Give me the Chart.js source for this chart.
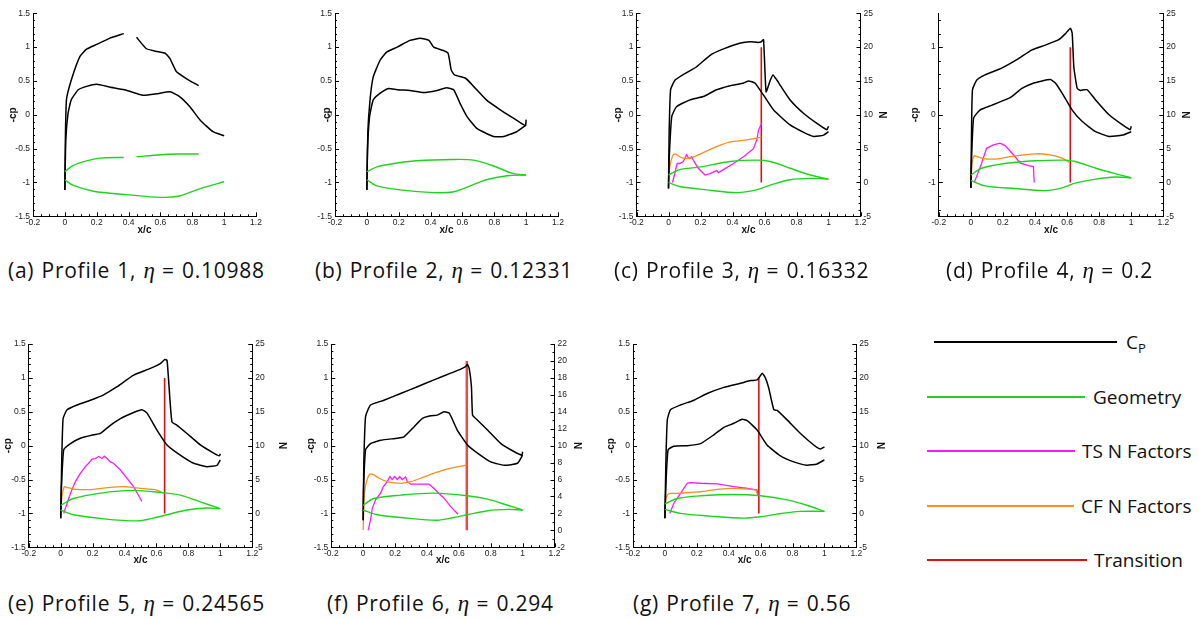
<!DOCTYPE html>
<html><head><meta charset="utf-8">
<script src="https://cdn.jsdelivr.net/npm/chart.js@4/dist/chart.umd.min.js"></script>
<style>
html,body{margin:0;padding:0;background:#fff;}
body{width:1199px;height:619px;overflow:hidden;position:relative;font-family:"Open Sans",sans-serif;}
canvas{position:absolute;}
.cap{position:absolute;white-space:nowrap;font-size:21px;color:#111;line-height:24px;letter-spacing:0.75px;word-spacing:1px;}
.cap i{font-family:"Liberation Serif",serif;font-style:italic;font-size:23px;letter-spacing:0;}
.lg{position:absolute;height:1.5px;}
.lt{position:absolute;white-space:nowrap;font-size:19px;color:#111;line-height:24px;}
.lt sub{font-size:13px;vertical-align:-4px;}
</style></head><body>
<script>
// ---------- tick labels ----------
const xTicks = [-0.2, 0, 0.2, 0.4, 0.6, 0.8, 1, 1.2];
const cpTicks = [-1.5, -1, -0.5, 0, 0.5, 1, 1.5];
const cpTicksD = [-1, 0, 1];
const nTicks = [-5, 0, 5, 10, 15, 20, 25];
const nTicksF = [-2, 0, 2, 4, 6, 8, 10, 12, 14, 16, 18, 20, 22];

// ---------- Profile 1 ----------
const cpUp1 = [[0,-1.11],[0.003,-0.4],[0.01,0.22],[0.04,0.51],[0.094,0.86],[0.136,0.97],[0.2,1.04],[0.28,1.13],[0.37,1.2],[0.41,null],[0.45,1.145],[0.51,0.98],[0.57,0.94],[0.63,0.91],[0.66,0.83],[0.70,0.64],[0.76,0.54],[0.84,0.43]];
const cpLo1 = [[0,-1.11],[0.006,-0.37],[0.02,0.02],[0.04,0.22],[0.084,0.37],[0.136,0.42],[0.2,0.45],[0.28,0.41],[0.39,0.36],[0.49,0.29],[0.575,0.31],[0.66,0.34],[0.72,0.27],[0.785,0.12],[0.85,-0.08],[0.93,-0.25],[1.0,-0.31]];
const geoUp1 = [[0,-0.84],[0.05,-0.75],[0.136,-0.68],[0.22,-0.64],[0.37,-0.63],[0.41,null],[0.45,-0.62],[0.6,-0.59],[0.72,-0.58],[0.84,-0.58]];
const geoLo1 = [[0,-0.96],[0.05,-1.04],[0.18,-1.13],[0.39,-1.18],[0.6,-1.22],[0.72,-1.2],[0.85,-1.09],[1.0,-0.99]];

// ---------- Profile 2 ----------
const cpUp2 = [[0,-1.11],[0.006,-0.27],[0.02,0.22],[0.04,0.56],[0.084,0.81],[0.126,0.93],[0.19,1.0],[0.27,1.1],[0.335,1.13],[0.39,1.1],[0.42,1.0],[0.48,0.95],[0.51,0.91],[0.53,0.66],[0.55,0.59],[0.62,0.54],[0.67,0.42],[0.75,0.22],[0.84,0.07],[0.92,-0.05],[0.995,-0.16],[1.0,-0.07]];
const cpLo2 = [[0,-1.11],[0.004,-0.52],[0.017,-0.03],[0.04,0.22],[0.084,0.32],[0.136,0.39],[0.19,0.37],[0.27,0.36],[0.356,0.33],[0.44,0.36],[0.5,0.4],[0.545,0.37],[0.585,0.17],[0.63,-0.03],[0.69,-0.2],[0.795,-0.32],[0.86,-0.32],[0.94,-0.25],[1.0,-0.15]];
const geoUp2 = [[0,-0.84],[0.063,-0.77],[0.17,-0.72],[0.31,-0.68],[0.54,-0.66],[0.67,-0.67],[0.8,-0.76],[0.92,-0.87],[1.0,-0.89]];
const geoLo2 = [[0,-0.96],[0.063,-1.05],[0.21,-1.11],[0.42,-1.15],[0.54,-1.14],[0.63,-1.07],[0.75,-0.96],[0.88,-0.9],[1.0,-0.89]];

// ---------- Profile 3 ----------
const cpUp3 = [[0,-1.09],[0.004,-0.27],[0.013,0.37],[0.04,0.51],[0.09,0.59],[0.176,0.71],[0.26,0.88],[0.34,0.97],[0.45,1.06],[0.51,1.08],[0.56,1.07],[0.58,1.08],[0.594,1.11],[0.61,0.34],[0.636,0.51],[0.653,0.59],[0.678,0.51],[0.7,0.43],[0.76,0.22],[0.845,0.02],[0.93,-0.13],[0.99,-0.22],[1.0,-0.17]];
const cpLo3 = [[0,-1.09],[0.004,-0.67],[0.02,-0.03],[0.05,0.12],[0.134,0.22],[0.218,0.27],[0.3,0.37],[0.385,0.43],[0.47,0.47],[0.5,0.5],[0.54,0.47],[0.594,0.29],[0.657,0.07],[0.76,-0.15],[0.845,-0.26],[0.908,-0.32],[0.97,-0.3],[1.0,-0.25]];
const geoUp3 = [[0,-0.89],[0.07,-0.81],[0.2,-0.77],[0.385,-0.69],[0.55,-0.67],[0.636,-0.69],[0.76,-0.79],[0.887,-0.89],[1.0,-0.95]];
const geoLo3 = [[0,-1.0],[0.07,-1.06],[0.24,-1.11],[0.427,-1.15],[0.55,-1.11],[0.636,-1.04],[0.76,-0.96],[0.887,-0.94],[1.0,-0.95]];
const cf3 = [[0,0.1],[0.008,2.3],[0.029,4.1],[0.046,4.2],[0.071,3.8],[0.092,3.6],[0.134,3.6],[0.197,4.2],[0.301,5.3],[0.385,6.0],[0.49,6.3],[0.582,6.7]];
const ts3 = [[0.025,0],[0.04,1.4],[0.054,2.8],[0.071,2.8],[0.092,3.1],[0.113,4.1],[0.125,3.6],[0.134,3.6],[0.144,3.8],[0.155,3.3],[0.186,2.1],[0.228,1.1],[0.259,1.3],[0.301,1.75],[0.312,1.45],[0.343,1.9],[0.406,2.8],[0.469,3.8],[0.531,5.0],[0.552,6.3],[0.563,7.75],[0.582,8.7]];
const tr3 = [[0.58,0],[0.58,20]];

// ---------- Profile 4 ----------
const cpUp4 = [[0,-1.08],[0.004,-0.27],[0.01,0.37],[0.036,0.51],[0.088,0.59],[0.192,0.69],[0.297,0.83],[0.381,0.96],[0.464,1.03],[0.548,1.11],[0.59,1.2],[0.621,1.28],[0.632,1.2],[0.642,0.71],[0.663,0.39],[0.684,0.36],[0.705,0.37],[0.726,0.37],[0.778,0.22],[0.862,0.0],[0.946,-0.15],[0.994,-0.22],[1.0,-0.17]];
const cpLo4 = [[0,-1.08],[0.004,-0.67],[0.017,-0.05],[0.056,0.07],[0.13,0.14],[0.213,0.22],[0.255,0.27],[0.318,0.39],[0.381,0.46],[0.444,0.5],[0.496,0.52],[0.527,0.47],[0.569,0.32],[0.632,0.07],[0.695,-0.1],[0.778,-0.25],[0.862,-0.32],[0.946,-0.3],[1.0,-0.25]];
const geoUp4 = [[0,-0.89],[0.067,-0.79],[0.213,-0.72],[0.4,-0.68],[0.59,-0.67],[0.65,-0.69],[0.78,-0.79],[0.9,-0.87],[1.0,-0.93]];
const geoLo4 = [[0,-0.97],[0.088,-1.05],[0.276,-1.09],[0.46,-1.12],[0.57,-1.08],[0.65,-1.01],[0.78,-0.95],[0.9,-0.92],[1.0,-0.93]];
const cf4 = [[0,0.2],[0.008,2.9],[0.021,3.95],[0.036,3.85],[0.088,3.5],[0.172,3.5],[0.255,3.85],[0.402,4.24],[0.485,4.1],[0.569,3.6],[0.615,2.95]];
const ts4 = [[0.021,0],[0.036,0.9],[0.067,2.85],[0.098,5.05],[0.14,5.55],[0.182,5.8],[0.213,5.45],[0.266,4.1],[0.308,2.85],[0.36,2.5],[0.39,2.35],[0.395,0]];
const tr4 = [[0.62,0],[0.62,20]];

// ---------- Profile 5 ----------
const cpUp5 = [[0,-1.07],[0.006,-0.26],[0.015,0.4],[0.04,0.53],[0.102,0.6],[0.186,0.67],[0.269,0.75],[0.353,0.87],[0.457,1.04],[0.562,1.14],[0.624,1.21],[0.651,1.27],[0.666,1.26],[0.676,0.97],[0.697,0.35],[0.729,0.3],[0.791,0.18],[0.875,0.01],[0.958,-0.11],[0.995,-0.15],[1.0,-0.12]];
const cpLo5 = [[0,-1.07],[0.004,-0.65],[0.019,-0.06],[0.061,0.03],[0.123,0.11],[0.207,0.16],[0.248,0.18],[0.311,0.3],[0.374,0.4],[0.457,0.49],[0.509,0.53],[0.541,0.48],[0.603,0.23],[0.666,0.01],[0.749,-0.14],[0.833,-0.26],[0.916,-0.31],[0.979,-0.29],[1.0,-0.21]];
const geoUp5 = [[0,-0.88],[0.08,-0.78],[0.25,-0.7],[0.457,-0.66],[0.624,-0.69],[0.75,-0.73],[0.875,-0.83],[1.0,-0.93]];
const geoLo5 = [[0,-0.95],[0.08,-1.02],[0.27,-1.08],[0.48,-1.11],[0.58,-1.07],[0.666,-1.02],[0.79,-0.95],[0.916,-0.92],[1.0,-0.93]];
const cf5 = [[0,0.26],[0.008,2.5],[0.023,3.95],[0.04,3.85],[0.102,3.55],[0.207,3.55],[0.311,3.85],[0.395,3.95],[0.499,3.7],[0.603,3.45],[0.645,2.95]];
const ts5 = [[0.019,0],[0.04,1.5],[0.061,2.95],[0.092,4.7],[0.123,5.9],[0.154,6.9],[0.175,7.4],[0.196,8.0],[0.217,8.1],[0.238,8.4],[0.259,8.1],[0.273,8.45],[0.29,8.1],[0.311,7.6],[0.33,7.4],[0.374,6.4],[0.457,3.95],[0.509,1.75]];
const tr5 = [[0.651,0],[0.651,20]];

// ---------- Profile 6 ----------
const cpUp6 = [[0,-1.1],[0.004,-0.26],[0.015,0.43],[0.046,0.6],[0.13,0.67],[0.235,0.77],[0.34,0.87],[0.444,0.97],[0.549,1.07],[0.612,1.13],[0.644,1.17],[0.654,1.2],[0.665,1.14],[0.679,0.87],[0.686,0.45],[0.706,0.4],[0.78,0.23],[0.864,0.03],[0.948,-0.09],[0.996,-0.14],[1.0,-0.09]];
const cpLo6 = [[0,-1.1],[0.002,-0.65],[0.015,-0.06],[0.046,0.03],[0.11,0.08],[0.214,0.11],[0.256,0.13],[0.32,0.28],[0.37,0.4],[0.423,0.44],[0.465,0.45],[0.507,0.5],[0.54,0.48],[0.59,0.23],[0.654,0.01],[0.717,-0.11],[0.8,-0.24],[0.885,-0.29],[0.968,-0.26],[1.0,-0.14]];
const geoUp6 = [[0,-0.88],[0.067,-0.78],[0.235,-0.73],[0.444,-0.7],[0.654,-0.74],[0.78,-0.79],[0.906,-0.88],[1.0,-0.95]];
const geoLo6 = [[0,-0.95],[0.088,-1.02],[0.277,-1.07],[0.465,-1.1],[0.57,-1.06],[0.654,-1.02],[0.78,-0.96],[0.906,-0.94],[1.0,-0.95]];
const cf6 = [[0,0.04],[0.002,1.6],[0.008,4.4],[0.021,5.75],[0.042,6.65],[0.067,6.55],[0.099,6.15],[0.151,5.75],[0.235,5.55],[0.298,5.75],[0.361,6.15],[0.444,6.75],[0.549,7.35],[0.648,7.7]];
const ts6 = [[0.031,0],[0.046,1.2],[0.057,2.6],[0.078,3.6],[0.109,4.4],[0.126,5.15],[0.151,5.75],[0.168,6.35],[0.182,6.0],[0.197,6.35],[0.214,6.0],[0.229,6.35],[0.245,6.0],[0.266,6.3],[0.277,5.75],[0.298,5.45],[0.361,5.45],[0.413,5.45],[0.444,4.95],[0.507,3.8],[0.549,2.8],[0.595,1.9]];
const tr6 = [[0.65,0],[0.65,20]];

// ---------- Profile 7 ----------
const cpUp7 = [[0,-1.07],[0.006,-0.26],[0.015,0.38],[0.035,0.53],[0.098,0.6],[0.182,0.67],[0.265,0.77],[0.37,0.86],[0.474,0.92],[0.537,0.96],[0.578,0.97],[0.595,1.02],[0.61,1.07],[0.63,1.0],[0.651,0.85],[0.683,0.53],[0.704,0.52],[0.766,0.38],[0.85,0.18],[0.933,0.01],[0.975,-0.05],[1.0,-0.02]];
const cpLo7 = [[0,-1.07],[0.006,-0.6],[0.02,-0.06],[0.056,-0.01],[0.14,0.0],[0.223,0.03],[0.307,0.16],[0.37,0.27],[0.432,0.33],[0.484,0.39],[0.516,0.37],[0.578,0.23],[0.64,0.01],[0.724,-0.15],[0.808,-0.24],[0.89,-0.29],[0.954,-0.27],[1.0,-0.21]];
const geoUp7 = [[0,-0.86],[0.077,-0.78],[0.223,-0.74],[0.432,-0.72],[0.6,-0.74],[0.766,-0.8],[0.89,-0.88],[1.0,-0.97]];
const geoLo7 = [[0,-0.94],[0.098,-1.0],[0.286,-1.04],[0.495,-1.07],[0.6,-1.05],[0.703,-1.01],[0.85,-0.97],[1.0,-0.97]];
const cf7 = [[0,0.26],[0.006,2.0],[0.015,2.7],[0.035,2.95],[0.077,2.95],[0.161,3.1],[0.223,3.2],[0.328,3.55],[0.432,3.7],[0.516,3.6],[0.568,3.45],[0.578,2.95]];
const ts7 = [[0.031,0],[0.056,1.5],[0.098,2.95],[0.14,4.45],[0.157,4.55],[0.223,4.45],[0.328,4.35],[0.432,3.95],[0.516,3.7],[0.557,3.55],[0.578,3.45],[0.584,2.6]];
const tr7 = [[0.589,0],[0.589,20]];

// ---------- captions / legend text ----------
const captionLabels = ['(a) Profile 1,', '(b) Profile 2,', '(c) Profile 3,', '(d) Profile 4,', '(e) Profile 5,', '(f) Profile 6,', '(g) Profile 7,'];
const etaValues = ['0.10988', '0.12331', '0.16332', '0.2', '0.24565', '0.294', '0.56'];
const legendNames = ['Geometry', 'TS N Factors', 'CF N Factors', 'Transition'];

// ---------- styles ----------
const C_CP = '#000000', C_GEO = '#1fd21f', C_TS = '#ff19ff', C_CF = '#ff8c1f', C_TR = '#e01010';

const panels = [
  {cv:[0,0,300,240],   L:33,   R:256,   T:13.3, B:216.3, yT:7,  xT:4, cp:[cpUp1,cpLo1], geo:[geoUp1,geoLo1]},
  {cv:[300,0,300,240], L:35,   R:258,   T:13.3, B:216.3, yT:21, xT:4, cp:[cpUp2,cpLo2], geo:[geoUp2,geoLo2]},
  {cv:[590,0,310,240], L:46.5, R:270.5, T:13.3, B:216.3, yT:22, xT:4, nT:12, cp:[cpUp3,cpLo3], geo:[geoUp3,geoLo3], cf:cf3, ts:ts3, tr:tr3, n:[-5,25], nTicks:nTicks},
  {cv:[895,0,304,240], L:43.8, R:268.3, T:13.3, B:216.3, yT:14, xT:4, nT:8, cp:[cpUp4,cpLo4], geo:[geoUp4,geoLo4], cf:cf4, ts:ts4, tr:tr4, n:[-5,25], nTicks:nTicks, yTicks:cpTicksD, yMinor:0.2},
  {cv:[0,320,300,250], L:28.8, R:252.2, T:24,   B:227.3, yT:2,  xT:4, nT:12.3, cp:[cpUp5,cpLo5], geo:[geoUp5,geoLo5], cf:cf5, ts:ts5, tr:tr5, n:[-5,25], nTicks:nTicks},
  {cv:[300,320,300,250], L:31.3, R:254.5, T:24, B:227.3, yT:5.7, xT:4, nT:17.3, cp:[cpUp6,cpLo6], geo:[geoUp6,geoLo6], cf:cf6, ts:ts6, tr:tr6, n:[-2,22], nTicks:nTicksF, trColor:'#e24c4c', trWidth:2.5},
  {cv:[600,320,300,250], L:33,  R:256.3, T:24,   B:227.3, yT:5.7, xT:4, nT:14, cp:[cpUp7,cpLo7], geo:[geoUp7,geoLo7], cf:cf7, ts:ts7, tr:tr7, n:[-5,25], nTicks:nTicks}
];

const captionPos = [[8,258],[315,258],[614,258],[946,258],[8,591],[327,591],[633,591]];

// ---------- inward tick plugin ----------
const inTicks = {
  id: 'inTicks',
  afterDraw(chart, args, opts) {
    const ctx = chart.ctx;
    ctx.save();
    ctx.strokeStyle = '#000';
    ctx.lineWidth = 1;
    const axes = opts.axes || {};
    for (const id of Object.keys(axes)) {
      const s = chart.scales[id];
      if (!s) continue;
      const st = axes[id];
      const majors = s.ticks.map(t => t.value);
      const marks = majors.map(v => [v, 4]);
      for (let k = Math.ceil(s.min / st - 1e-6); k * st <= s.max + 1e-9; k++) {
        const v = k * st;
        if (majors.some(m => Math.abs(m - v) < st / 10)) continue;
        marks.push([v, 2]);
      }
      ctx.beginPath();
      for (const [v, len] of marks) {
        const p = Math.round(s.getPixelForValue(v)) + 0.5;
        if (s.isHorizontal()) { ctx.moveTo(p, s.top); ctx.lineTo(p, s.top - len); }
        else if (s.position === 'left') { ctx.moveTo(s.right, p); ctx.lineTo(s.right + len, p); }
        else { ctx.moveTo(s.left, p); ctx.lineTo(s.left - len, p); }
      }
      ctx.stroke();
    }
    ctx.restore();
  }
};

const fmt = v => String(+(+v).toFixed(3));
const tickFont = {family: '"Liberation Sans", Arial, sans-serif', size: 8.5};
const titleFont = {family: '"Liberation Sans", Arial, sans-serif', size: 10, weight: 'bold'};
const tickColor = '#222';
const noGrid = {display: false, drawTicks: false, tickLength: 0};

function line(arr, color, width, axis, tension) {
  return {
    data: arr.map(([x, y]) => ({x: x, y: y})),
    borderColor: color, backgroundColor: color, borderWidth: width,
    yAxisID: axis, showLine: true, pointRadius: 0, pointHoverRadius: 0,
    tension: tension, fill: false, spanGaps: false
  };
}

panels.forEach((p, i) => {
  const [cl, ct, cw, ch] = p.cv;
  const cnv = document.createElement('canvas');
  cnv.width = cw; cnv.height = ch;
  cnv.style.left = cl + 'px'; cnv.style.top = ct + 'px';
  cnv.style.width = cw + 'px'; cnv.style.height = ch + 'px';
  document.body.appendChild(cnv);

  const hasN = !!p.cf;
  const yW = p.L, y2W = cw - p.R, xH = ch - p.B;
  const datasets = [
    line(p.geo[0], C_GEO, 1.4, 'y', 0.3),
    line(p.geo[1], C_GEO, 1.4, 'y', 0.3),
    line(p.cp[0], C_CP, 1.5, 'y', 0.15),
    line(p.cp[1], C_CP, 1.5, 'y', 0.15)
  ];
  if (hasN) {
    datasets.push(line(p.cf, C_CF, 1.3, 'y2', 0.2));
    datasets.push(line(p.ts, C_TS, 1.3, 'y2', 0));
    datasets.push(line(p.tr, p.trColor || C_TR, p.trWidth || 1.6, 'y2', 0));
  }

  const scales = {
    x: {
      type: 'linear', position: 'bottom', min: -0.2, max: 1.2,
      afterFit: s => { s.height = xH; },
      afterBuildTicks: s => { s.ticks = xTicks.map(v => ({value: v})); },
      grid: noGrid, border: {display: true, color: '#000', width: 1},
      ticks: {font: tickFont, color: tickColor, padding: 1, maxRotation: 0, autoSkip: false, callback: fmt},
      title: {display: true, text: 'x/c', font: titleFont, color: '#111', padding: {top: 0, bottom: p.xT}}
    },
    y: {
      type: 'linear', position: 'left', min: -1.5, max: 1.5,
      afterFit: s => { s.width = yW; },
      afterBuildTicks: s => { s.ticks = (p.yTicks || cpTicks).map(v => ({value: v})); },
      grid: noGrid, border: {display: true, color: '#000', width: 1},
      ticks: {font: tickFont, color: tickColor, padding: 3, autoSkip: false, callback: fmt},
      title: {display: true, text: '-cp', font: titleFont, color: '#111', padding: {top: p.yT, bottom: 0}}
    }
  };
  const tickAxes = {x: 0.05, y: p.yMinor || 0.1};
  if (hasN) {
    scales.y2 = {
      type: 'linear', position: 'right', min: p.n[0], max: p.n[1],
      afterFit: s => { s.width = y2W; },
      afterBuildTicks: s => { s.ticks = p.nTicks.map(v => ({value: v})); },
      grid: noGrid, border: {display: true, color: '#000', width: 1},
      ticks: {font: tickFont, color: tickColor, padding: 3, autoSkip: false, callback: fmt},
      title: {display: true, text: 'N', font: titleFont, color: '#111', padding: {top: p.nT, bottom: 0}}
    };
    tickAxes.y2 = 1;
  }

  new Chart(cnv, {
    type: 'scatter',
    data: {datasets: datasets},
    options: {
      responsive: false, animation: false, devicePixelRatio: 1,
      layout: {padding: {left: 0, top: p.T, right: hasN ? 0 : cw - p.R, bottom: 0}},
      plugins: {legend: {display: false}, tooltip: {enabled: false}, inTicks: {axes: tickAxes}},
      scales: scales
    },
    plugins: [inTicks]
  });

  const cap = document.createElement('div');
  cap.className = 'cap';
  cap.style.left = captionPos[i][0] + 'px';
  cap.style.top = captionPos[i][1] + 'px';
  cap.innerHTML = captionLabels[i] + ' <i>η</i> = ' + etaValues[i];
  document.body.appendChild(cap);
});

// ---------- legend ----------
const legendItems = [
  {x1: 934, x2: 1117, y: 342, color: C_CP, label: 'C<sub>P</sub>', tx: 1126},
  {x1: 927, x2: 1085, y: 397, color: C_GEO, label: legendNames[0], tx: 1093},
  {x1: 927, x2: 1075, y: 451, color: C_TS, label: legendNames[1], tx: 1082},
  {x1: 927, x2: 1074, y: 506, color: C_CF, label: legendNames[2], tx: 1081},
  {x1: 927, x2: 1087, y: 560, color: C_TR, label: legendNames[3], tx: 1094}
];
legendItems.forEach(it => {
  const l = document.createElement('div');
  l.className = 'lg';
  l.style.left = it.x1 + 'px'; l.style.top = (it.y - 0.75) + 'px';
  l.style.width = (it.x2 - it.x1) + 'px'; l.style.background = it.color;
  document.body.appendChild(l);
  const t = document.createElement('div');
  t.className = 'lt';
  t.style.left = it.tx + 'px'; t.style.top = (it.y - 12) + 'px';
  t.innerHTML = it.label;
  document.body.appendChild(t);
});
</script>
</body></html>
